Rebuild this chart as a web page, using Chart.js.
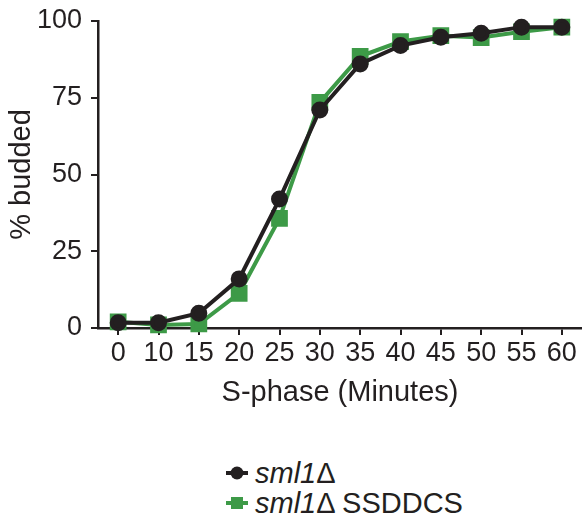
<!DOCTYPE html>
<html>
<head>
<meta charset="utf-8">
<script src="https://cdn.jsdelivr.net/npm/chart.js@4"></script>
<style>
  html, body { margin: 0; padding: 0; background: #fff; }
  body { width: 582px; height: 525px; position: relative; overflow: hidden;
         font-family: "Liberation Sans", Arial, sans-serif; color: #231f20; }
  /* a bit wider than the page so the plot reaches the right edge */
  .chartbox { position: absolute; left: 0; top: 0; width: 595px; height: 430px; }
  .legend { position: absolute; left: 226px; top: 458px; font-size: 29px; line-height: 30px; }
  .legend .row { display: flex; align-items: center; height: 30px; }
  .legend .mk { position: relative; width: 22px; height: 4px; margin-right: 7px; }
  .legend .mk i { position: absolute; left: 50%; top: 50%; transform: translate(-50%, -50%); }
  .mk.blk { background: #231f20; }
  .mk.blk i { width: 13px; height: 13px; border-radius: 50%; background: #231f20; }
  .mk.grn { background: #3d9a47; }
  .mk.grn i { width: 12px; height: 12px; background: #3d9a47; }
  em { font-style: italic; }
</style>
</head>
<body>
<div class="chartbox"><canvas id="myChart"></canvas></div>
<div class="legend">
  <div class="row"><span class="mk blk"><i></i></span><span><em>sml1</em>Δ</span></div>
  <div class="row"><span class="mk grn"><i></i></span><span><em>sml1</em>Δ SSDDCS</span></div>
</div>
<script>
var minutes = ["0", "10", "15", "20", "25", "30", "35", "40", "45", "50", "55", "60"];
var sml1 = [1.7, 1.7, 4.8, 16, 42, 71, 86, 92, 94.7, 96, 98, 98];
var sml1Ssddcs = [2, 1, 1.3, 11.3, 35.7, 73.5, 88.5, 93.3, 95.2, 94.6, 96.5, 98];
var yTicks = [0, 25, 50, 75, 100];

var ink = '#231f20';
var green = '#3d9a47';
var tickFont = { family: '"Liberation Sans", Arial, sans-serif', size: 27 };
var titleFont = { family: '"Liberation Sans", Arial, sans-serif', size: 29 };

var ctx = document.getElementById('myChart').getContext('2d');
new Chart(ctx, {
    type: 'line',
    data: {
        labels: minutes,
        datasets: [{
            data: sml1,
            borderColor: ink,
            backgroundColor: ink,
            borderWidth: 4,
            pointStyle: 'circle',
            pointRadius: 6.5,
            pointHoverRadius: 6.5,
            clip: false
        }, {
            data: sml1Ssddcs,
            borderColor: green,
            backgroundColor: green,
            borderWidth: 4,
            pointStyle: 'rect',
            pointRadius: 9,
            pointHoverRadius: 9,
            clip: false
        }]
    },
    options: {
        responsive: true,
        maintainAspectRatio: false,
        animation: false,
        events: [],
        layout: { padding: { top: 21, right: 0, left: 0, bottom: 0 } },
        plugins: {
            legend: { display: false },
            tooltip: { enabled: false }
        },
        scales: {
            x: {
                offset: true,
                grid: { drawOnChartArea: false, drawTicks: true, tickLength: 7, color: ink, lineWidth: 2, offset: false },
                border: { color: ink, width: 2.5 },
                ticks: { color: ink, font: tickFont, padding: 2, maxRotation: 0, autoSkip: false },
                title: { display: true, text: 'S-phase (Minutes)', color: ink, font: titleFont, padding: { top: 6, bottom: 20 } },
                afterFit: function (s) { s.height = 102; }
            },
            y: {
                min: 0,
                max: 100,
                afterBuildTicks: function (s) { s.ticks = yTicks.map(function (v) { return { value: v }; }); },
                grid: { drawOnChartArea: false, drawTicks: true, tickLength: 7, color: ink, lineWidth: 2 },
                border: { color: ink, width: 2.5 },
                ticks: { color: ink, font: tickFont, padding: 9 },
                title: { display: true, text: '% budded', color: ink, font: titleFont, padding: { top: 5, bottom: 4 } },
                afterFit: function (s) { s.width = 98; s.paddingTop = 0; s.paddingBottom = 0; }
            }
        }
    }
});
</script>
</body>
</html>
